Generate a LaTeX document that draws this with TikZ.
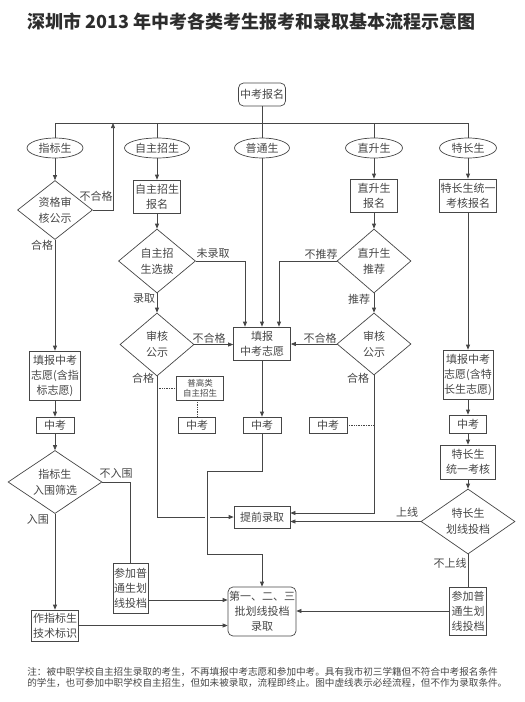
\documentclass[tikz,border=0pt]{standalone}
\usepackage{fontspec}
\setmainfont{Noto Sans CJK SC}
\usetikzlibrary{arrows.meta,shapes.geometric}
\definecolor{inkgray}{RGB}{70,70,70}
\definecolor{titlegray}{RGB}{45,45,45}
\tikzset{
    stepbox/.style={draw=inkgray,text=inkgray,inner sep=1pt,align=center,font=\fontsize{11}{15}\selectfont},
    roundbox/.style={stepbox,rounded corners=5pt},
    catnode/.style={draw=inkgray,text=inkgray,ellipse,minimum height=20pt,inner sep=1pt,font=\fontsize{11}{13}\selectfont},
    decision/.style={draw=inkgray,text=inkgray,diamond,aspect=1.4,inner sep=0pt,align=center,font=\fontsize{11}{16}\selectfont},
    smallbox/.style={stepbox,font=\fontsize{8.5}{10}\selectfont},
    branchlabel/.style={text=inkgray,inner sep=0pt,font=\fontsize{11}{13}\selectfont},
    titletext/.style={text=titlegray,inner sep=0pt,font=\fontsize{18}{20}\selectfont\bfseries},
    notetext/.style={text=inkgray,inner sep=0pt,align=left,font=\fontsize{9.6}{11.5}\selectfont},
    flow/.style={->},
    dotlink/.style={densely dotted},
    gapmask/.style={draw=white,line width=5pt}
}

\begin{document}
\begin{tikzpicture}[x=1pt,y=-1pt,>={Triangle[length=5pt,width=4pt]},line width=0.7pt,draw=inkgray]
    \useasboundingbox (0,0) rectangle (525,702);
    % Title
    \node[titletext,anchor=west] (title) at (27,22) {深圳市 2013 年中考各类考生报考和录取基本流程示意图};
    % Registration and student types
    \node[roundbox,minimum width=47pt,minimum height=23pt] (reg) at (262,94.5) {中考报名};
    \node[catnode,minimum width=56pt] (zbs) at (55,148) {指标生};
    \node[catnode,minimum width=65pt] (zzs) at (157,148) {自主招生};
    \node[catnode,minimum width=55pt] (pts) at (262,148) {普通生};
    \node[catnode,minimum width=57pt] (zss) at (374,148) {直升生};
    \node[catnode,minimum width=57pt] (tcs) at (468,148) {特长生};
    \coordinate (busL) at (55,123);
    \coordinate (busR) at (468,123);
    \draw (busL) -- (busR);
    \draw (reg) -- (pts);
    \foreach \cat in {zbs,zzs,zss,tcs}
        \draw (\cat.north) -- (\cat.north |- busL);

    % Index students
    \node[decision,minimum width=75pt,minimum height=59pt] (chk1) at (55,210) {资格审\\核公示};
    \node[stepbox,minimum width=51pt,minimum height=49pt] (fill1) at (55,375.5) {填报中考\\志愿(含指\\标志愿)};
    \node[stepbox,minimum width=38pt,minimum height=16pt] (exam1) at (55,425) {中考};
    \node[decision,minimum width=94pt,minimum height=63pt] (sel1) at (55,482) {指标生\\入围筛选};
    \node[stepbox,minimum width=35pt,minimum height=50pt] (join1) at (130.5,588) {参加普\\通生划\\线投档};
    \node[stepbox,minimum width=47pt,minimum height=31pt] (tech) at (55,625.5) {作指标生\\技术标识};
    \coordinate (failup) at (113,123);
    \draw[flow] (zbs) -- (chk1);
    \draw[flow] (chk1.east) -| (failup);
    \draw[flow] (chk1) -- (fill1);
    \draw[flow] (fill1) -- (exam1);
    \draw[flow] (exam1) -- (sel1);
    \draw (sel1.east) -| (join1.north);
    \draw[flow] (sel1) -- (tech);
    \node[branchlabel] (lab1) at (96,196) {不合格};
    \node[branchlabel] (lab2) at (42,245) {合格};
    \node[branchlabel] (lab3) at (116,473) {不入围};
    \node[branchlabel] (lab4) at (38,519) {入围};

    % Self-enrolment
    \node[stepbox,minimum width=47pt,minimum height=33pt] (zzbm) at (157,196.5) {自主招生\\报名};
    \node[decision,minimum width=77pt,minimum height=64pt] (zzxb) at (157,261) {自主招\\生选拔};
    \node[decision,minimum width=74pt,minimum height=63pt] (sh1) at (157,344.5) {审核\\公示};
    \node[smallbox,minimum width=47pt,minimum height=24pt] (pgl) at (200,388) {普高类\\自主招生};
    \node[stepbox,minimum width=37pt,minimum height=16pt] (exam2) at (197,425) {中考};
    \coordinate (pgltap) at (157,388);
    \draw[flow] (zzs) -- (zzbm);
    \draw[flow] (zzbm) -- (zzxb);
    \draw[flow] (zzxb) -- (sh1);
    \draw[dotlink] (pgltap) -- (pgl.west);
    \draw[dotlink] (pgl.south -| exam2.north) -- (exam2.north);
    \node[branchlabel] (lab5) at (213,253) {未录取};
    \node[branchlabel] (lab6) at (144,299) {录取};
    \node[branchlabel] (lab7) at (209,338) {不合格};
    \node[branchlabel] (lab8) at (143,378) {合格};

    % Ordinary students
    \node[stepbox,minimum width=57pt,minimum height=33pt] (fill2) at (262,343.5) {填报\\中考志愿};
    \node[stepbox,minimum width=38pt,minimum height=16pt] (exam3) at (262,425) {中考};
    \node[stepbox,minimum width=56pt,minimum height=22pt] (early) at (262,517) {提前录取};
    \node[roundbox,minimum width=65pt,minimum height=49pt] (batch) at (262,611.5) {第一、二、三\\批划线投档\\录取};
    \draw[flow] (pts) -- (fill2);
    \draw[flow] (zzxb.east) -| ([xshift=-17pt]fill2.north);
    \draw[flow] (sh1.east) -- (sh1.east -| fill2.west);
    \draw[flow] (fill2) -- (exam3);
    \draw[flow] (sh1.south) |- (early.west);
    \coordinate (bendA) at (207,471);
    \coordinate (bendB) at (207,554);
    \draw[gapmask] ([yshift=-8pt]bendA) -- ([yshift=8pt]bendB);
    \draw[flow] (exam3.south) |- (bendA) -- (bendB) -| (batch.north);

    % Direct promotion
    \node[stepbox,minimum width=47pt,minimum height=33pt] (zsbm) at (374,195.5) {直升生\\报名};
    \node[decision,minimum width=74pt,minimum height=64pt] (zstj) at (374,261) {直升生\\推荐};
    \node[decision,minimum width=74pt,minimum height=62pt] (sh2) at (374,344) {审核\\公示};
    \node[stepbox,minimum width=38pt,minimum height=16pt] (exam4) at (328,425) {中考};
    \draw[flow] (zss) -- (zsbm);
    \draw[flow] (zsbm) -- (zstj);
    \draw[flow] (zstj.west) -| ([xshift=17pt]fill2.north);
    \draw[flow] (zstj) -- (sh2);
    \draw[flow] (sh2.west) -- (sh2.west -| fill2.east);
    \draw[flow] (sh2.south) |- ([yshift=4pt]early.east);
    \draw[dotlink] (exam4.east) -- (exam4.east -| sh2.south);
    \node[branchlabel] (lab9) at (321,254) {不推荐};
    \node[branchlabel] (lab10) at (359,299) {推荐};
    \node[branchlabel] (lab11) at (320,338) {不合格};
    \node[branchlabel] (lab12) at (358,378) {合格};

    % Special talent
    \node[stepbox,minimum width=56pt,minimum height=33pt] (tcbm) at (468,195.5) {特长生统一\\考核报名};
    \node[stepbox,minimum width=50pt,minimum height=49pt] (fill3) at (468,374.5) {填报中考\\志愿(含特\\长生志愿)};
    \node[stepbox,minimum width=37pt,minimum height=18pt] (exam5) at (468,424) {中考};
    \node[stepbox,minimum width=55pt,minimum height=34pt] (tcks) at (468,462) {特长生\\统一考核};
    \node[decision,minimum width=94pt,minimum height=65pt] (tcxt) at (468,521.5) {特长生\\划线投档};
    \node[stepbox,minimum width=37pt,minimum height=48pt] (join2) at (468,611) {参加普\\通生划\\线投档};
    \draw[flow] (tcs) -- (tcbm);
    \draw[flow] (tcbm) -- (fill3);
    \draw[flow] (fill3) -- (exam5);
    \draw[flow] (exam5) -- (tcks);
    \draw[flow] (tcks) -- (tcxt);
    \draw[flow] (tcxt.west) -- (tcxt.west -| early.east);
    \draw (tcxt) -- (join2);
    \node[branchlabel] (lab13) at (407,512) {上线};
    \node[branchlabel] (lab14) at (450,563) {不上线};

    % Into the batch admission
    \draw[flow] (tech.east) -- (tech.east -| batch.west);
    \draw[flow] (join1.east |- 0,600) -- (batch.west |- 0,600);
    \draw[flow] (join2.west) -- (join2.west -| batch.east);

    % Note
    \node[notetext,anchor=west] (note) at (27,677.5) {注：被中职学校自主招生录取的考生，不再填报中考志愿和参加中考。具有我市初三学籍但不符合中考报名条件\\的学生，也可参加中职学校自主招生，但如未被录取，流程即终止。图中虚线表示必经流程，但不作为录取条件。};
\end{tikzpicture}
\end{document}
